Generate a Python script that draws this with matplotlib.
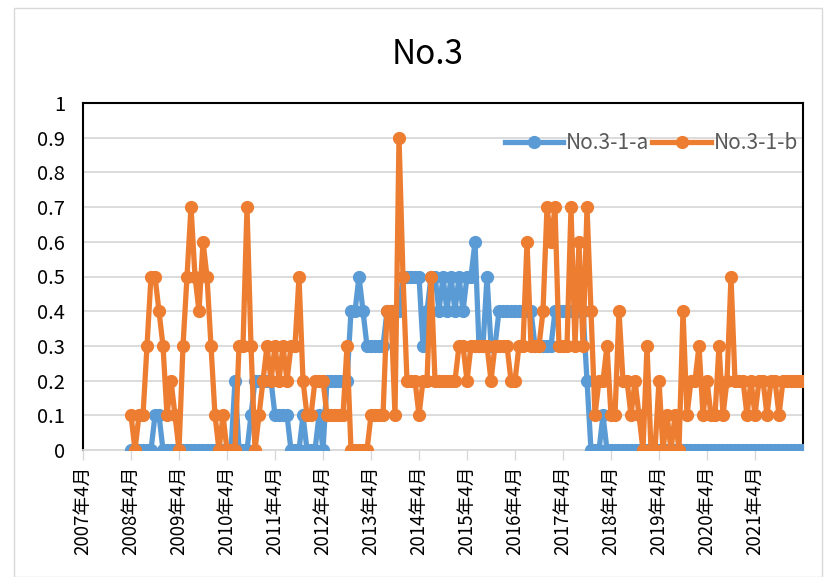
import matplotlib.pyplot as plt
from matplotlib.patches import Rectangle
import numpy as np

plt.rcParams['font.family'] = ['Noto Sans CJK JP', 'DejaVu Sans']

# monthly values, first point is 2008年4月 (12 per row, April to March)
series_a = [
    0, 0, 0, 0, 0, 0, 0.1, 0.1, 0, 0, 0, 0,
    0, 0, 0, 0, 0, 0, 0, 0, 0, 0, 0, 0,
    0, 0, 0.2, 0, 0, 0, 0.1, 0.2, 0.2, 0.2, 0.2, 0.2,
    0.1, 0.1, 0.1, 0.1, 0, 0, 0, 0.1, 0, 0, 0, 0.1,
    0, 0.2, 0.2, 0.2, 0.2, 0.2, 0.2, 0.4, 0.4, 0.5, 0.4, 0.3,
    0.3, 0.3, 0.3, 0.3, 0.4, 0.4, 0.4, 0.4, 0.5, 0.5, 0.5, 0.5,
    0.5, 0.3, 0.4, 0.5, 0.5, 0.4, 0.5, 0.4, 0.5, 0.4, 0.5, 0.4,
    0.5, 0.5, 0.6, 0.3, 0.3, 0.5, 0.3, 0.3, 0.4, 0.4, 0.4, 0.4,
    0.4, 0.4, 0.4, 0.4, 0.4, 0.3, 0.3, 0.3, 0.3, 0.3, 0.4, 0.4,
    0.4, 0.4, 0.4, 0.4, 0.4, 0.4, 0.2, 0, 0, 0, 0.1, 0,
    0, 0, 0, 0, 0, 0, 0, 0, 0, 0, 0, 0,
    0, 0, 0, 0, 0, 0, 0, 0, 0, 0, 0, 0,
    0, 0, 0, 0, 0, 0, 0, 0, 0, 0, 0, 0,
    0, 0, 0, 0, 0, 0, 0, 0, 0, 0, 0, 0,
    0,
]
series_b = [
    0.1, 0, 0.1, 0.1, 0.3, 0.5, 0.5, 0.4, 0.3, 0.1, 0.2, 0.1,
    0, 0.3, 0.5, 0.7, 0.5, 0.4, 0.6, 0.5, 0.3, 0.1, 0, 0.1,
    0, 0, 0, 0.3, 0.3, 0.7, 0.3, 0, 0.1, 0.2, 0.3, 0.2,
    0.3, 0.2, 0.3, 0.2, 0.3, 0.3, 0.5, 0.2, 0.1, 0.1, 0.2, 0.2,
    0.2, 0.1, 0.1, 0.1, 0.1, 0.1, 0.3, 0, 0, 0, 0, 0,
    0.1, 0.1, 0.1, 0.1, 0.4, 0.4, 0.1, 0.9, 0.5, 0.2, 0.2, 0.2,
    0.1, 0.2, 0.2, 0.5, 0.2, 0.2, 0.2, 0.2, 0.2, 0.2, 0.3, 0.3,
    0.2, 0.3, 0.3, 0.3, 0.3, 0.3, 0.2, 0.3, 0.3, 0.3, 0.3, 0.2,
    0.2, 0.3, 0.3, 0.6, 0.3, 0.3, 0.3, 0.4, 0.7, 0.6, 0.7, 0.3,
    0.3, 0.3, 0.7, 0.3, 0.6, 0.3, 0.7, 0.4, 0.1, 0.2, 0.2, 0.3,
    0.1, 0.1, 0.4, 0.2, 0.2, 0.1, 0.2, 0.1, 0, 0.3, 0, 0,
    0.2, 0, 0.1, 0, 0.1, 0, 0.4, 0.1, 0.2, 0.2, 0.3, 0.1,
    0.2, 0.1, 0.1, 0.3, 0.1, 0.2, 0.5, 0.2, 0.2, 0.2, 0.1, 0.2,
    0.1, 0.2, 0.2, 0.1, 0.2, 0.2, 0.1, 0.2, 0.2, 0.2, 0.2, 0.2,
    0.2,
]
tick_years = list(range(2007, 2022))
tick_labels = [f"{y}年4月" for y in tick_years]

first_month = 12          # months after 2007年4月
last_month = 180

blue = "#5B9BD5"
orange = "#ED7D31"

fig = plt.figure(figsize=(8.28, 5.77), dpi=100)
fig.patches.append(Rectangle((14 / 828, 0), 808 / 828, 1 - 8 / 577,
                             transform=fig.transFigure, fill=False,
                             edgecolor="#D9D9D9", linewidth=1))
ax = fig.add_axes([83 / 828, 1 - 450 / 577, 720 / 828, 347 / 577])

months = np.arange(first_month, first_month + len(series_a))
ax.plot(months, series_a, color=blue, lw=3.8, marker="o", ms=8.5,
        label="No.3-1-a", zorder=3)
ax.plot(months, series_b, color=orange, lw=3.8, marker="o", ms=8.5,
        label="No.3-1-b", zorder=4)

ax.set_xlim(0, last_month)
ax.set_ylim(0, 1)
ax.set_yticks(np.arange(0, 1.01, 0.1))
ax.set_yticklabels(["0"] + [f"{v:.1f}" for v in np.arange(0.1, 0.95, 0.1)] + ["1"])
ax.set_xticks(np.arange(0, 169, 12))
ax.set_xticklabels(tick_labels, rotation=90)

ax.grid(axis="y", color="#D9D9D9", lw=1.3)
ax.set_axisbelow(True)
ax.tick_params(axis="y", length=0, pad=13, labelsize=14.5)
ax.tick_params(axis="x", length=7, width=1, color="#D9D9D9", pad=4, labelsize=13.5)

for side in ["top", "left", "right"]:
    ax.spines[side].set_color("black")
    ax.spines[side].set_linewidth(1.5)
ax.spines["bottom"].set_color("#D9D9D9")
ax.spines["bottom"].set_linewidth(1.3)

fig.text(428 / 828, 1 - 55 / 577, "No.3", fontsize=24, ha="center", va="center")

leg = ax.legend(loc="upper right", bbox_to_anchor=(1.005, 0.94), ncol=2,
                frameon=False, fontsize=15, handlelength=2.8,
                columnspacing=0.15, handletextpad=0.15, borderaxespad=0)
for t in leg.get_texts():
    t.set_color("#595959")

fig.savefig("out.png", dpi=100)
